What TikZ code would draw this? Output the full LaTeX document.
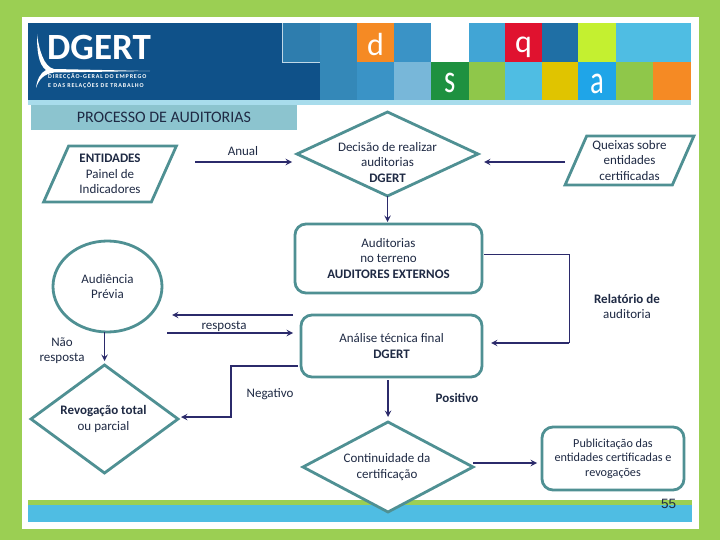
\documentclass[tikz,border=0pt]{standalone}
\usepackage{fontspec}
\setmainfont{Carlito}
\newfontfamily\pagefont{Liberation Sans}
\usetikzlibrary{arrows.meta, positioning, shapes.geometric}
\definecolor{frameGreen}{HTML}{9BCF53}
\definecolor{bannerBlue}{HTML}{0F5189}
\definecolor{stripBlue}{HTML}{A8DCEC}
\definecolor{titleBlue}{HTML}{8CC4CF}
\definecolor{footBlue}{HTML}{4FBDE3}
\definecolor{edgeTeal}{HTML}{4F9093}
\definecolor{flowNavy}{HTML}{2B2A6B}
\definecolor{inkNavy}{HTML}{1F2A44}
\definecolor{tileA}{HTML}{2E7DAE}
\definecolor{tileB}{HTML}{3488B8}
\definecolor{tileC}{HTML}{3A93C6}
\definecolor{tileD}{HTML}{41A5D5}
\definecolor{tileE}{HTML}{1F6FA5}
\definecolor{tileF}{HTML}{78B7D9}
\definecolor{tileOrange}{HTML}{F58A24}
\definecolor{tileRed}{HTML}{E0122F}
\definecolor{tileLime}{HTML}{C4F030}
\definecolor{tileGreen}{HTML}{1E9140}
\definecolor{tileOlive}{HTML}{8FC74A}
\definecolor{tileYellow}{HTML}{E0C400}
\definecolor{tileSky}{HTML}{1FA5E8}
\begin{document}
\begin{tikzpicture}[
    x=1pt, y=-1pt,
    >=stealth,
    shape base/.style={draw=edgeTeal, line width=2.8pt, fill=white, outer sep=0pt, inner sep=0pt, align=center, text=inkNavy, font=\fontsize{13}{15.5}\selectfont},
    decision/.style={shape base, diamond},
    slanted/.style={shape base, trapezium, trapezium left angle=65, trapezium right angle=115, trapezium stretches=true},
    roundbox/.style={shape base, rectangle, rounded corners=11pt},
    caption/.style={align=center, text=inkNavy, inner sep=0pt, font=\fontsize{13}{15.5}\selectfont},
    flow/.style={->, draw=flowNavy, line width=1.8pt, shorten >=5pt},
    thinflow/.style={draw=flowNavy, line width=0.9pt},
    letter/.style={text=white, font=\fontsize{32}{32}\selectfont, inner sep=0pt},
    tall letter/.style={letter, transform shape, yscale=1.25, xscale=0.9}
]
\useasboundingbox (0,0) rectangle (720,540);

% Background
\fill[frameGreen] (0,0) rectangle (720,540);
\fill[white] (22,17) rectangle (699,529);
\fill[bannerBlue] (28,23) rectangle (320,100);
\fill[stripBlue] (28,100) rectangle (691,105);
\fill[frameGreen] (28,500) rectangle (692,505);
\fill[footBlue] (28,505) rectangle (692,522);

% Tiles
\foreach \xa/\xb/\tile in {282/320/tileA, 320/357/tileB, 357/394/tileOrange, 394/431/tileC, 469/505/tileD, 505/542/tileRed, 542/578/tileE, 578/616/tileLime, 616/653/footBlue, 653/691/footBlue}
    \fill[\tile] (\xa,23) rectangle (\xb,62);
\foreach \xa/\xb/\tile in {320/357/tileB, 357/394/tileC, 394/431/tileF, 431/469/tileGreen, 469/505/tileOlive, 505/542/footBlue, 542/578/tileYellow, 578/616/tileSky, 616/653/tileOlive, 653/691/tileOrange}
    \fill[\tile] (\xa,62) rectangle (\xb,100);
\draw[white!70!tileA, line width=0.5pt] (282,23) -- (282,62) -- (320,62);
\node[letter] (let-d) at (375.5,44.5) {d};
\node[letter] (let-q) at (523.5,47) {q};
\node[tall letter] (let-s) at (450,83) {s};
\node[tall letter] (let-a) at (597,84) {a};

% Logo
\fill[white] (37,34) .. controls (37,50) and (38,64) .. (46,70) .. controls (40,73) and (37,80) .. (36,88) .. controls (39,79) and (44,74) .. (54,72.5) -- (150,71) -- (54,69) .. controls (44,67) and (39,50) .. (37,34);
\node[text=white, inner sep=0pt, font=\fontsize{37}{37}\selectfont\bfseries] (logo) at (99,47) {DGERT};
\node[text=white, inner sep=0pt, align=left, anchor=west, font=\fontsize{6}{8.5}\selectfont\bfseries\addfontfeature{LetterSpace=14}] (logo-sub) at (48,81) {DIRECÇÃO-GERAL DO EMPREGO\\E DAS RELAÇÕES DE TRABALHO};

% Title
\node[fill=titleBlue, minimum width=266pt, minimum height=25pt, inner sep=0pt, text=inkNavy, font=\fontsize{16}{18}\selectfont] (title) at (164,117.5) {PROCESSO DE AUDITORIAS};

% Top row
\node[decision, minimum width=181pt, minimum height=84pt] (decide) at (387.5,154) {};
\node[caption, yshift=-8.5pt] (decide-text) at (decide) {Decisão de realizar\\auditorias\\\textbf{DGERT}};
\node[slanted, minimum width=134pt, minimum height=56pt] (entities) at (110,174) {\textbf{ENTIDADES}\\Painel de\\Indicadores};
\node[slanted, minimum width=129pt, minimum height=49pt] (complaints) at (629.5,160.5) {Queixas sobre\\entidades\\certificadas};

% Middle row
\node[roundbox, below=28pt of decide, xshift=1pt, minimum width=187pt, minimum height=69pt] (audits) {Auditorias\\no terreno\\\textbf{AUDITORES EXTERNOS}};
\node[shape base, ellipse, minimum width=109pt, minimum height=91pt] (hearing) at (107.5,286.5) {Audiência\\Prévia};
\node[roundbox, below=22pt of audits, xshift=3pt, minimum width=181pt, minimum height=62pt] (review) {Análise técnica final\\\textbf{DGERT}};

% Bottom row
\node[decision, minimum width=147pt, minimum height=108pt] (revoke) at (104.5,419) {};
\node[caption, xshift=-1pt] (revoke-text) at (revoke) {\textbf{Revogação total}\\ou parcial};
\node[decision, minimum width=170pt, minimum height=90pt] (keep) at (388,467) {};
\node[caption, xshift=-1pt] (keep-text) at (keep) {Continuidade da\\certificação};
\node[roundbox, minimum width=142pt, minimum height=63pt, font=\fontsize{12.2}{14.5}\selectfont] (publish) at (613,458.5) {Publicitação das\\entidades certificadas e\\revogações};

% Free ends
\coordinate (entities-out) at (195,162);
\coordinate (complaints-out) at (565,162);
\coordinate (audits-out) at (484,254);
\coordinate (report-turn) at (569,343);
\coordinate (reply-a) at (293,315);
\coordinate (reply-b) at (172,315);
\coordinate (reply-c) at (167,333);
\coordinate (reply-d) at (293,333);
\coordinate (neg-out) at (298,366);
\coordinate (neg-turn) at (231,417);
\coordinate (keep-out) at (473,463);

% Connectors
\draw[flow] (entities-out) -- (entities-out -| decide.west);
\draw[flow, shorten >=6pt] (complaints-out) -- (complaints-out -| decide.east);
\draw[flow, shorten >=2pt] (decide.south) -- (audits.north -| decide);
\draw[thinflow] (audits-out) -| (report-turn);
\draw[flow, shorten >=9pt] (report-turn) -- (report-turn -| review.east);
\draw[flow, shorten >=0pt] (reply-a) -- (reply-b);
\draw[flow, shorten >=0pt] (reply-c) -- (reply-d);
\draw[flow, shorten >=4pt] (hearing.south -| revoke.north) -- (revoke.north);
\draw[flow, shorten >=3pt] (neg-out) -| (neg-turn) -- (neg-turn -| revoke.east);
\draw[flow] ([yshift=-3pt]review.south -| keep.north) -- (keep.north);
\draw[flow, shorten >=5pt] (keep-out) -- (keep-out -| publish.west);

% Labels
\node[caption] (anual) at (243,151) {Anual};
\node[caption] (reply) at (224,326) {resposta};
\node[caption] (noreply) at (62,350.5) {Não\\resposta};
\node[caption] (negative) at (270,394) {Negativo};
\node[caption] (positive) at (457,398) {\textbf{Positivo}};
\node[caption] (report) at (627,306.5) {\textbf{Relatório de}\\auditoria};
\node[text=inkNavy, inner sep=0pt, font=\pagefont\fontsize{13.5}{14}\selectfont] (page) at (668.5,504) {55};

\end{tikzpicture}
\end{document}
